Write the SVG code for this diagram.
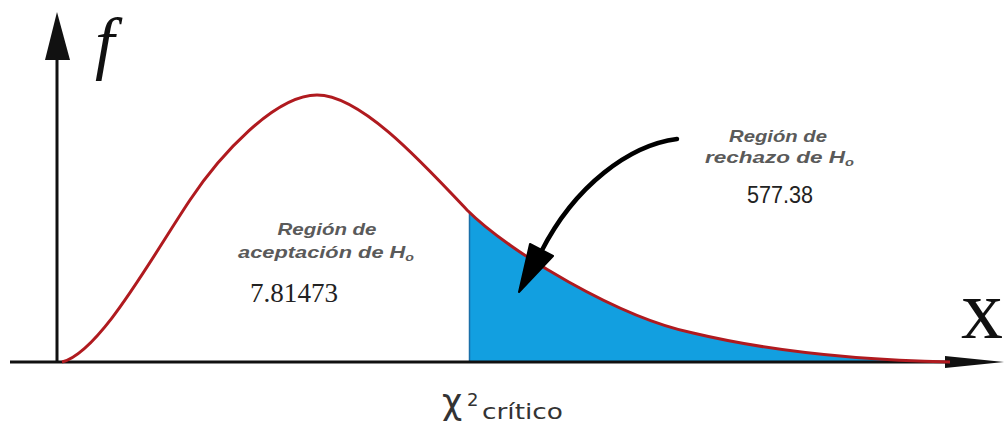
<svg xmlns="http://www.w3.org/2000/svg" width="1006" height="428" viewBox="0 0 1006 428">
  <style>
    .axis { stroke: #111; stroke-width: 3; fill: none; }
    .head { fill: #111; }
    .curve { stroke: #b01a1f; stroke-width: 3; fill: none; stroke-linejoin: round; }
    .region { fill: #129fe0; }
    .lbl { font-family: "Liberation Sans", Arial, sans-serif; font-weight: bold; font-style: italic; font-size: 17px; fill: #5a5a5a; }
    .num { font-family: "Liberation Serif", "Times New Roman", serif; font-size: 27px; fill: #222; }
    .num2 { font-family: "Liberation Sans", Arial, sans-serif; font-size: 23px; fill: #222; }
    .crit { font-family: "DejaVu Sans", "Liberation Sans", sans-serif; fill: #333; }
  </style>
  <rect width="1006" height="428" fill="#fff"/>

  <g id="rejection-region">
    <path class="region" d="M469,212 C510,253 620,318 693,333 C760,349 850,360 950,362 L469,362 Z"/>
    <line x1="469.5" y1="212" x2="469.5" y2="362" stroke="#1a6fa8" stroke-width="1.5"/>
  </g>

  <g id="axes">
    <line class="axis" x1="57" y1="362" x2="57" y2="55"/>
    <polygon class="head" points="57,12 45,60 70,60"/>
    <line class="axis" x1="10" y1="362" x2="950" y2="362"/>
    <polygon class="head" points="945,356 1004,362 945,368"/>
    <text x="95" y="66" font-family="Liberation Serif, 'Times New Roman', serif" font-style="italic" font-size="70" fill="#111">f</text>
    <text x="961" y="338" font-family="Liberation Serif, 'Times New Roman', serif" font-size="84" fill="#111">x</text>
  </g>

  <g id="density-curve">
    <path class="curve" d="M62,362 C100,352 150,260 190,200 C220,155 275,95 317,95 C360,95 420,160 467,210 C510,253 620,318 693,333 C760,349 850,360 950,362"/>
  </g>

  <g id="acceptance-label">
    <text class="lbl" x="327" y="235" text-anchor="middle" textLength="99" lengthAdjust="spacingAndGlyphs">Región de</text>
    <text class="lbl" x="238" y="258" textLength="176" lengthAdjust="spacingAndGlyphs">aceptación de H<tspan font-size="11" dy="3">o</tspan></text>
    <text class="num" x="250" y="302" textLength="88" lengthAdjust="spacingAndGlyphs">7.81473</text>
  </g>

  <g id="rejection-label">
    <text class="lbl" x="778" y="142" text-anchor="middle" textLength="98" lengthAdjust="spacingAndGlyphs">Región de</text>
    <text class="lbl" x="705" y="163" textLength="149" lengthAdjust="spacingAndGlyphs">rechazo de H<tspan font-size="11" dy="3">o</tspan></text>
    <text class="num2" x="747" y="203" textLength="66" lengthAdjust="spacingAndGlyphs">577.38</text>
  </g>

  <g id="critical-label">
    <text class="crit" x="442" y="414" font-size="35">χ</text>
    <text class="crit" x="467" y="406" font-size="18">2</text>
    <text class="crit" x="482" y="419" font-size="22" textLength="81" lengthAdjust="spacingAndGlyphs">crítico</text>
  </g>

  <g id="connectors">
    <path d="M677,139 C630,145 575,185 541,252" stroke="#000" stroke-width="4.5" fill="none" stroke-linecap="round"/>
    <polygon points="530,244 553,256 519,292" fill="#000" stroke="#000" stroke-width="2" stroke-linejoin="round"/>
  </g>
</svg>
